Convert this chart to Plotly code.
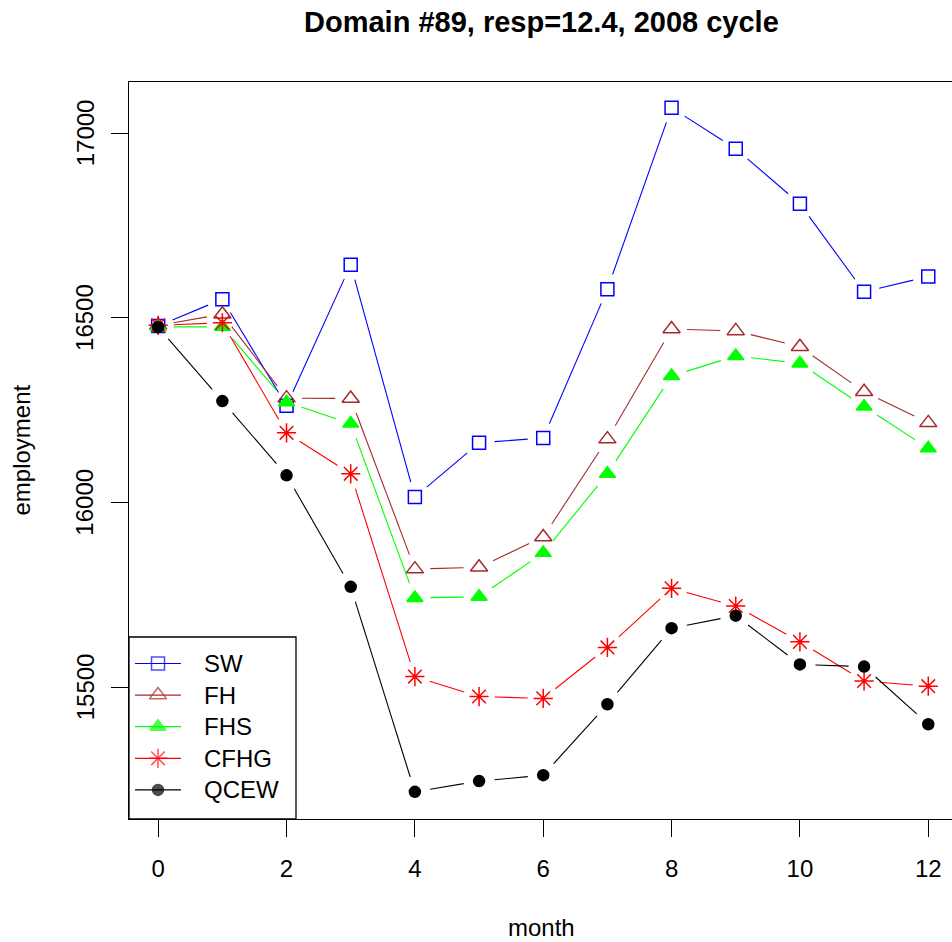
import math
import plotly.graph_objects as go

months = list(range(13))
series_names = ["SW", "FH", "FHS", "CFHG", "QCEW"]
sw = [16478, 16551, 16262, 16644, 16015, 16162, 16175, 16578, 17069, 16958, 16809, 16571, 16612]
fh = [16480, 16510, 16283, 16282, 15820, 15825, 15907, 16172, 16470, 16465, 16422, 16300, 16216]
fhs = [16476, 16476, 16272, 16214, 15742, 15745, 15864, 16078, 16343, 16397, 16377, 16260, 16147]
cfhg = [16480, 16487, 16189, 16078, 15529, 15475, 15470, 15608, 15768, 15720, 15623, 15517, 15503]
qcew = [16475, 16275, 16074, 15772, 15217, 15246, 15262, 15454, 15660, 15694, 15562, 15556, 15400]
x_ticks = [0, 2, 4, 6, 8, 10, 12]
y_ticks = [15500, 16000, 16500, 17000]

W, H = 952, 942
ML, MT, MB, MR = 129, 82, 123, 0
PW, PH = W - ML - MR, H - MT - MB
XR = [-0.455, 12.37]
YR = [15143.4, 17138.9]
sx = PW / (XR[1] - XR[0])
sy = PH / (YR[1] - YR[0])
GAP = 15.5

styles = [
    dict(color="#0000FF", symbol="square-open", size=13),
    dict(color="#A52A2A", symbol="triangle-up-open", size=15),
    dict(color="#00FF00", symbol="triangle-up", size=14),
    dict(color="#FF0000", symbol="asterisk-open", size=16),
    dict(color="#000000", symbol="circle", size=11),
]
data = [sw, fh, fhs, cfhg, qcew]

FONT = "Liberation Sans, Arial, sans-serif"

def gapped(xs, ys):
    gx, gy = [], []
    for i in range(len(xs) - 1):
        x1, y1, x2, y2 = xs[i], ys[i], xs[i + 1], ys[i + 1]
        dx, dy = (x2 - x1) * sx, (y2 - y1) * sy
        L = math.hypot(dx, dy)
        if L <= 2 * GAP:
            continue
        t = GAP / L
        gx += [x1 + t * (x2 - x1), x2 - t * (x2 - x1), None]
        gy += [y1 + t * (y2 - y1), y2 - t * (y2 - y1), None]
    return gx, gy

fig = go.Figure()
for name, ys, st in zip(series_names, data, styles):
    gx, gy = gapped(months, ys)
    fig.add_trace(go.Scatter(x=gx, y=gy, mode="lines", line=dict(color=st["color"], width=1.1),
                             showlegend=False, hoverinfo="skip", connectgaps=False))
    fig.add_trace(go.Scatter(x=months, y=ys, mode="markers", name=name, showlegend=False,
                             marker=dict(symbol=st["symbol"], size=st["size"], color=st["color"],
                                         line=dict(color=st["color"], width=1.5))))

# manual legend (R-style) on a pixel overlay axis
LEG_L, LEG_R, LEG_T = 129, 296, 637
row0, rowstep = 663.5, 31.6
shapes = [dict(type="rect", xref="x2", yref="y2", x0=LEG_L - ML, x1=LEG_R - ML,
               y0=0, y1=(MT + PH) - LEG_T, line=dict(color="black", width=1.3),
               fillcolor="white", layer="below")]
leg_x, leg_y, leg_sym, leg_col, leg_size = [], [], [], [], []
annotations = []
for i, (name, st) in enumerate(zip(series_names, styles)):
    py = row0 + i * rowstep
    yy = (MT + PH) - py
    shapes.append(dict(type="line", xref="x2", yref="y2", x0=135 - ML, x1=181 - ML, y0=yy, y1=yy,
                       line=dict(color=st["color"], width=1.2)))
    leg_x.append(158 - ML)
    leg_y.append(yy)
    leg_sym.append(st["symbol"])
    leg_col.append(st["color"])
    leg_size.append(st["size"])
    annotations.append(dict(xref="x2", yref="y2", x=202 - ML, y=yy, text=name, showarrow=False,
                            xanchor="left", yanchor="middle",
                            font=dict(family=FONT, size=24, color="black")))
fig.add_trace(go.Scatter(x=leg_x, y=leg_y, mode="markers", xaxis="x2", yaxis="y2", showlegend=False,
                         hoverinfo="skip",
                         marker=dict(symbol=leg_sym, size=leg_size, color=leg_col,
                                     line=dict(color=leg_col, width=1.5))))

# y tick labels (rotated, R style)
for v in y_ticks:
    annotations.append(dict(xref="paper", yref="y", x=-(ML - 85) / PW, y=v, text=str(v),
                            showarrow=False, xanchor="center", yanchor="middle", textangle=-90,
                            font=dict(family=FONT, size=24, color="black")))

annotations.append(dict(xref="paper", yref="paper", x=(541 - ML) / PW, y=1 + (MT - 22) / PH,
                        text="<b>Domain #89, resp=12.4, 2008 cycle</b>", showarrow=False,
                        xanchor="center", yanchor="middle",
                        font=dict(family=FONT, size=29, color="black")))
annotations.append(dict(xref="paper", yref="paper", x=(541 - ML) / PW, y=-(928 - MT - PH) / PH,
                        text="month", showarrow=False, xanchor="center", yanchor="middle",
                        font=dict(family=FONT, size=24, color="black")))
annotations.append(dict(xref="paper", yref="paper", x=-(ML - 21) / PW, y=0.5,
                        text="employment", showarrow=False, xanchor="center", yanchor="middle",
                        textangle=-90, font=dict(family=FONT, size=24, color="black")))

fig.update_layout(
    width=W, height=H, margin=dict(l=ML, r=MR, t=MT, b=MB, pad=0),
    paper_bgcolor="white", plot_bgcolor="white", showlegend=False,
    font=dict(family=FONT, size=24, color="black"),
    xaxis=dict(range=XR, tickvals=x_ticks, ticktext=[str(v) for v in x_ticks],
               showgrid=False, zeroline=False, showline=True, mirror=True, linecolor="black",
               linewidth=1.3, ticks="outside", ticklen=17, tickwidth=1.3, tickcolor="black",
               ticklabelstandoff=11,
               tickfont=dict(family=FONT, size=24, color="black")),
    yaxis=dict(range=YR, tickvals=y_ticks, showticklabels=False,
               showgrid=False, zeroline=False, showline=True, linecolor="black",
               linewidth=1.3, ticks="outside", ticklen=17, tickwidth=1.3, tickcolor="black"),
    xaxis2=dict(range=[0, PW], overlaying="x", visible=False, fixedrange=True),
    yaxis2=dict(range=[0, PH], overlaying="y", visible=False, fixedrange=True),
    shapes=shapes, annotations=annotations,
)
fig.write_html("out.html")
